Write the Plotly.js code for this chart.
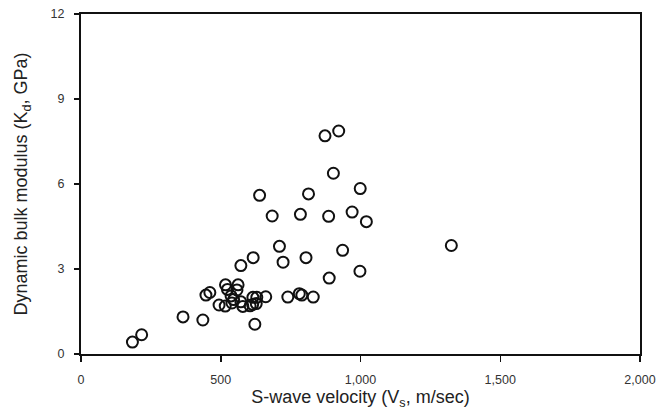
<!DOCTYPE html>
<html>
<head>
<meta charset="utf-8">
<script src="https://cdn.plot.ly/plotly-3.0.1.min.js"></script>
<style>html,body{margin:0;padding:0;background:#fff;}#chart{width:662px;height:416px;}</style>
</head>
<body>
<div id="chart"></div>
<script>
const vs = [184,217,365,436,447,461,494,516,517,524,537,546,558,562,540,572,579,572,616,615,629,614,627,605,661,622,639,684,710,723,740,781,790,831,785,814,805,873,922,903,886,970,1021,999,936,888,998,1325];
const kd = [0.42,0.68,1.31,1.20,2.08,2.17,1.73,1.69,2.44,2.28,2.05,1.92,2.26,2.44,1.80,1.84,1.68,3.12,3.40,2.00,2.00,1.75,1.78,1.70,2.02,1.05,5.60,4.87,3.80,3.24,2.01,2.13,2.08,2.01,4.93,5.65,3.40,7.70,7.87,6.38,4.86,5.01,4.67,5.84,3.66,2.68,2.92,3.83];
const xTicks = [0,500,1000,1500,2000];
const xTickText = ['0','500','1,000','1,500','2,000'];
const yTicks = [0,3,6,9,12];

const trace = {
  x: vs, y: kd, type: 'scatter', mode: 'markers',
  marker: {symbol: 'circle-open', size: 11, color: '#111', line: {width: 2, color: '#111'}},
  hoverinfo: 'x+y'
};
const layout = {
  width: 662, height: 416,
  margin: {l: 80.5, r: 21.5, t: 14, b: 62},
  paper_bgcolor: '#fff', plot_bgcolor: '#fff',
  showlegend: false,
  font: {family: 'Liberation Sans, Arial, sans-serif', color: '#222'},
  xaxis: {
    range: [0, 2000], tickvals: xTicks, ticktext: xTickText,
    ticks: 'outside', ticklen: 6, tickwidth: 1.5, tickcolor: '#111',
    showline: true, linewidth: 2, linecolor: '#111', mirror: true,
    showgrid: false, zeroline: false,
    tickfont: {size: 12.5, color: '#333'}, ticklabelstandoff: 7,
    title: {text: 'S-wave velocity (V<sub>s</sub>, m/sec)', font: {size: 18, color: '#222'}, standoff: 4}
  },
  yaxis: {
    range: [0, 12], tickvals: yTicks,
    ticks: 'outside', ticklen: 5, tickwidth: 1.5, tickcolor: '#111',
    showline: true, linewidth: 2, linecolor: '#111', mirror: true,
    showgrid: false, zeroline: false,
    tickfont: {size: 12.5, color: '#333'}, ticklabelstandoff: 7,
    title: {text: 'Dynamic bulk modulus (K<sub>d</sub>, GPa)', font: {size: 18, color: '#222'}, standoff: 18}
  }
};
Plotly.newPlot('chart', [trace], layout, {displayModeBar: false, staticPlot: true});
</script>
</body>
</html>
